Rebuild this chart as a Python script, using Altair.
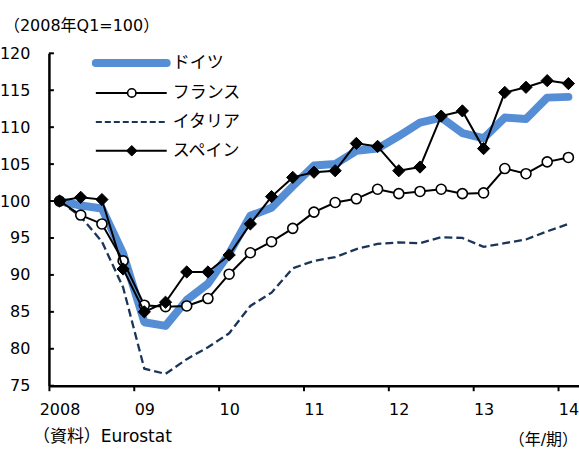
import altair as alt
import pandas as pd

# Quarterly real GDP index, 2008 Q1 = 100
quarters = [
    "2008Q1", "2008Q2", "2008Q3", "2008Q4",
    "2009Q1", "2009Q2", "2009Q3", "2009Q4",
    "2010Q1", "2010Q2", "2010Q3", "2010Q4",
    "2011Q1", "2011Q2", "2011Q3", "2011Q4",
    "2012Q1", "2012Q2", "2012Q3", "2012Q4",
    "2013Q1", "2013Q2", "2013Q3", "2013Q4",
    "2014Q1",
]
germany = [100.0, 99.4, 99.0, 92.9, 83.6, 83.1, 86.6, 88.8, 92.9, 98.0, 99.1, 102.0,
           104.8, 105.0, 106.8, 107.1, 108.8, 110.6, 111.3, 109.2, 108.5, 111.3, 111.1,
           114.0, 114.1]
france = [100.0, 98.1, 96.9, 91.9, 85.9, 85.7, 85.8, 86.8, 90.1, 93.0, 94.5, 96.3,
          98.5, 99.8, 100.3, 101.6, 101.0, 101.3, 101.6, 101.0, 101.1, 104.4, 103.7,
          105.3, 105.9]
italy = [100.0, 97.9, 94.5, 88.3, 77.3, 76.6, 78.6, 80.2, 82.1, 85.8, 87.6, 90.9,
         91.9, 92.4, 93.5, 94.2, 94.4, 94.3, 95.1, 95.0, 93.8, 94.3, 94.8, 95.9, 96.9]
spain = [100.0, 100.5, 100.2, 90.8, 85.0, 86.3, 90.4, 90.4, 92.7, 96.9, 100.6, 103.2,
         103.9, 104.1, 107.8, 107.4, 104.1, 104.6, 111.5, 112.2, 107.1, 114.7, 115.4,
         116.3, 115.9]

series_names = ["ドイツ", "フランス", "イタリア", "スペイン"]
year_labels = ["2008", "09", "10", "11", "12", "13", "14"]
y_ticks = [75, 80, 85, 90, 95, 100, 105, 110, 115, 120]

unit_note = "（2008年Q1=100）"
source_note = "（資料）Eurostat"
period_note = "（年/期）"

rows = []
for name, values in zip(series_names, [germany, france, italy, spain]):
    for i, (q, v) in enumerate(zip(quarters, values)):
        rows.append({"idx": i, "quarter": q, "series": name, "value": v})
df = pd.DataFrame(rows)

W, H = 531, 333
BLUE = "#558ED5"
NAVY = "#1B3558"
NUM_FONT = "DejaVu Sans"
JP_FONT = "Noto Sans CJK JP"
MIX_FONT = "DejaVu Sans, Noto Sans CJK JP"

n = len(quarters)
boundaries = [-0.5 + 4 * k for k in range(len(year_labels))]
label_js = "[" + ",".join(f"'{s}'" for s in year_labels) + "]"

x_enc = alt.X(
    "idx:Q",
    title=None,
    scale=alt.Scale(domain=[-0.5, n - 0.5], nice=False, zero=False),
    axis=alt.Axis(
        values=boundaries,
        labelExpr=f"{label_js}[round((datum.value + 0.5) / 4)]",
        labelOffset=W / n / 2,
        labelAlign="center",
        labelFont=NUM_FONT,
        labelFontSize=16,
        labelColor="black",
        labelPadding=11,
        tickSize=5,
        tickWidth=2,
        tickColor="black",
        domainColor="black",
        domainWidth=2.5,
        grid=False,
    ),
)
y_enc = alt.Y(
    "value:Q",
    title=None,
    scale=alt.Scale(domain=[75, 120], nice=False, zero=False),
    axis=alt.Axis(
        values=y_ticks,
        format="d",
        labelFont=NUM_FONT,
        labelFontSize=16,
        labelColor="black",
        labelPadding=19,
        ticks=False,
        tickSize=0,
        domainColor="black",
        domainWidth=2.5,
        grid=False,
    ),
)


def series(name):
    return alt.Chart(df).transform_filter(alt.datum.series == name)


italy_line = series("イタリア").mark_line(
    color=NAVY, strokeWidth=2.3, strokeDash=[8, 4]
).encode(x=x_enc, y=y_enc)

germany_line = series("ドイツ").mark_line(
    color=BLUE, strokeWidth=8, strokeJoin="round", strokeCap="round"
).encode(x=x_enc, y=y_enc)

france_line = series("フランス").mark_line(color="black", strokeWidth=2).encode(x=x_enc, y=y_enc)
france_pts = series("フランス").mark_point(
    shape="circle", size=100, filled=True, fill="white", stroke="black", strokeWidth=1.6, opacity=1
).encode(x=x_enc, y=y_enc)

spain_line = series("スペイン").mark_line(color="black", strokeWidth=2).encode(x=x_enc, y=y_enc)
spain_pts = series("スペイン").mark_point(
    shape="diamond", size=150, filled=True, fill="black", stroke="black", strokeWidth=1, opacity=1
).encode(x=x_enc, y=y_enc)

# inward-pointing ticks on the value axis
y_tick_marks = alt.Chart(pd.DataFrame({"value": y_ticks})).mark_rule(
    color="black", strokeWidth=2
).encode(y=y_enc, x=alt.value(0), x2=alt.value(5))

# hand-built legend in the upper-left corner
leg_x0, leg_x1, leg_mid, leg_text = 47, 118, 83, 124
leg_rows = [9.7, 39.7, 68.7, 97.7]


def legend_rule(row, **style):
    return alt.Chart(pd.DataFrame({"series": [series_names[row]]})).mark_rule(**style).encode(
        x=alt.value(leg_x0), x2=alt.value(leg_x1), y=alt.value(leg_rows[row])
    )


def legend_label(row):
    return alt.Chart(pd.DataFrame({"series": [series_names[row]]})).mark_text(
        align="left", baseline="middle", font=JP_FONT, fontSize=17, color="black"
    ).encode(x=alt.value(leg_text), y=alt.value(leg_rows[row]), text="series:N")


legend = [
    legend_rule(0, color=BLUE, strokeWidth=8, strokeCap="round"),
    legend_rule(1, color="black", strokeWidth=2),
    alt.Chart(pd.DataFrame({"series": [series_names[1]]})).mark_point(
        shape="circle", size=70, filled=True, fill="white", stroke="black", strokeWidth=1.6, opacity=1
    ).encode(x=alt.value(leg_mid), y=alt.value(leg_rows[1])),
    legend_rule(2, color=NAVY, strokeWidth=2, strokeDash=[6, 3]),
    legend_rule(3, color="black", strokeWidth=2),
    alt.Chart(pd.DataFrame({"series": [series_names[3]]})).mark_point(
        shape="diamond", size=110, filled=True, fill="black", stroke="black", strokeWidth=1, opacity=1
    ).encode(x=alt.value(leg_mid), y=alt.value(leg_rows[3])),
] + [legend_label(r) for r in range(4)]


def note(text, x, y, align, size):
    return alt.Chart(pd.DataFrame({"t": [text]})).mark_text(
        align=align, baseline="middle", font=MIX_FONT, fontSize=size, color="black"
    ).encode(x=alt.value(x), y=alt.value(y), text="t:N")


notes = [
    note(unit_note, -45, -27, "left", 16),
    note(source_note, -16, 384, "left", 17),
    note(period_note, 530, 387, "right", 16),
]

chart = alt.layer(
    italy_line, germany_line, france_line, france_pts, spain_line, spain_pts,
    y_tick_marks, *legend, *notes,
).properties(
    width=W,
    height=H,
    autosize=alt.AutoSizeParams(type="none"),
    padding={"left": 49, "top": 53, "right": 0, "bottom": 63},
    background="white",
).configure_view(stroke=None)

chart.save("out.html", embed_options={"renderer": "svg", "actions": False})
